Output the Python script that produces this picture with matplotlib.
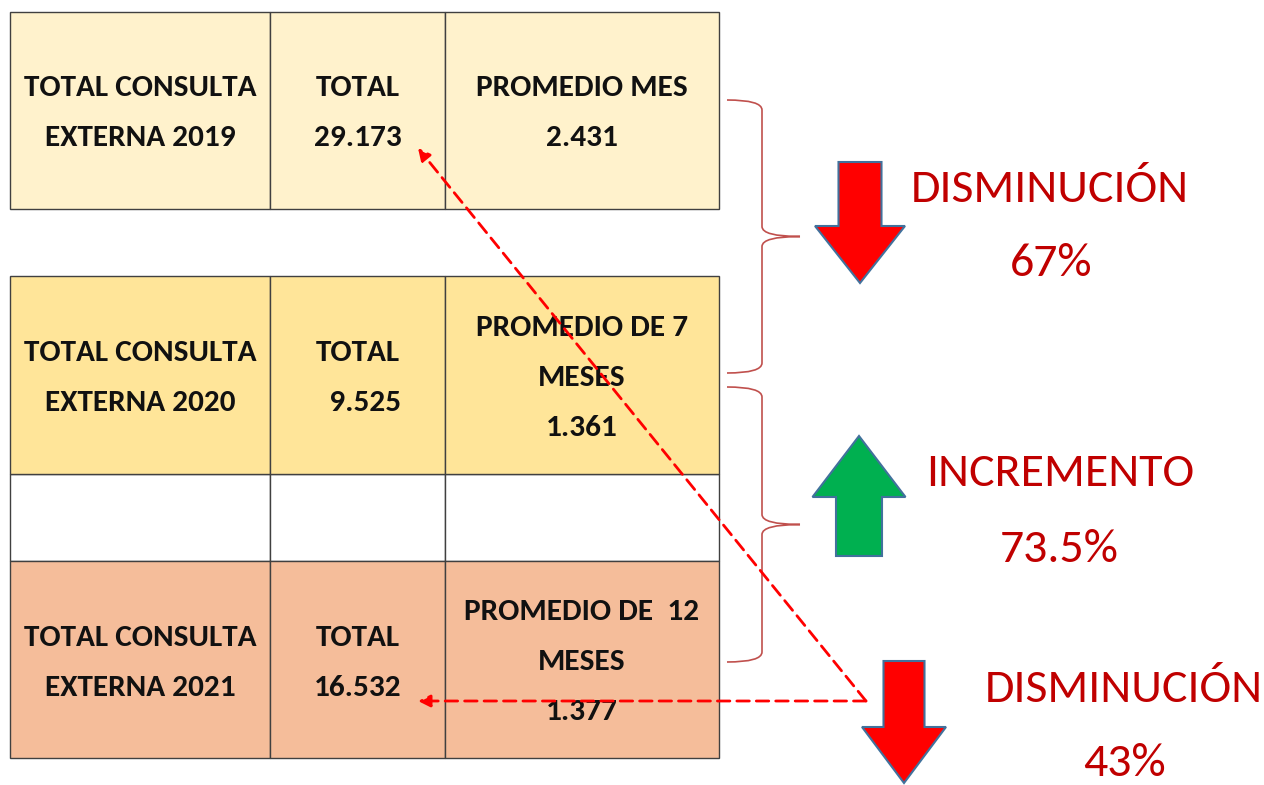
import matplotlib
matplotlib.use("Agg")
import matplotlib.pyplot as plt
from matplotlib.patches import Rectangle, Polygon, PathPatch
from matplotlib.path import Path

years = ["2019", "2020", "2021"]
totals = ["29.173", "  9.525", "16.532"]
promedio_labels = [["PROMEDIO MES", "2.431"],
                   ["PROMEDIO DE 7", "MESES", "1.361"],
                   ["PROMEDIO DE  12", "MESES", "1.377"]]
changes = [("DISMINUCIÓN", "67%"), ("INCREMENTO", "73.5%"), ("DISMINUCIÓN", "43%")]
fills = ["#FFF2CC", "#FFE599", "#F5BD9A"]

W, H = 1264, 785
fig = plt.figure(figsize=(W / 100, H / 100), dpi=100)
ax = fig.add_axes([0, 0, 1, 1])
ax.set_xlim(0, W)
ax.set_ylim(H, 0)
ax.axis("off")

FAM = ["Carlito", "Open Sans Condensed", "DejaVu Sans"]
TXT = dict(family=FAM, fontweight="bold", fontsize=22.5, ha="center", va="center", color="#111111")

cols = [10, 270, 445, 719]
rows = [(12, 209), (276, 474), (561, 758)]
lw = 1.0
edge = "#404040"

# white row between 2020 and 2021
for i in range(3):
    ax.add_patch(Rectangle((cols[i], 474), cols[i + 1] - cols[i], 87, facecolor="white", edgecolor=edge, lw=lw))

for k, (y0, y1) in enumerate(rows):
    for i in range(3):
        ax.add_patch(Rectangle((cols[i], y0), cols[i + 1] - cols[i], y1 - y0,
                               facecolor=fills[k], edgecolor=edge, lw=lw))
    yc = (y0 + y1) / 2 + 3
    ax.text(140, yc - 25, "TOTAL CONSULTA", **TXT)
    ax.text(140, yc + 25, "EXTERNA " + years[k], **TXT)
    ax.text(358, yc - 25, "TOTAL", **TXT)
    ax.text(358, yc + 25, totals[k], **TXT)
    lines = promedio_labels[k]
    n = len(lines)
    for j, t in enumerate(lines):
        ax.text(582, yc + (j - (n - 1) / 2) * 50, t, **TXT)

# braces
def brace(y0, y1, x0=727, x1=762, xt=800):
    ym = (y0 + y1) / 2
    verts = [(x0, y0), (x1, y0), (x1, y0 + 10),
             (x1, ym - 10),
             (x1, ym), (xt, ym),
             (x1, ym), (x1, ym + 10),
             (x1, y1 - 10),
             (x1, y1), (x0, y1)]
    codes = [Path.MOVETO, Path.CURVE3, Path.CURVE3,
             Path.LINETO,
             Path.CURVE3, Path.CURVE3,
             Path.CURVE3, Path.CURVE3,
             Path.LINETO,
             Path.CURVE3, Path.CURVE3]
    ax.add_patch(PathPatch(Path(verts, codes), facecolor="none", edgecolor="#C0504D", lw=1.2))

brace(100, 373)
brace(387, 662)

# block arrows
def block_arrow(cx, ybase, yhead, ytip, sw, hw, color):
    pts = [(cx - sw / 2, ybase), (cx + sw / 2, ybase), (cx + sw / 2, yhead), (cx + hw / 2, yhead),
           (cx, ytip), (cx - hw / 2, yhead), (cx - sw / 2, yhead)]
    ax.add_patch(Polygon(pts, closed=True, facecolor=color, edgecolor="#41719C", lw=1.5, zorder=5))

block_arrow(860, 162, 226, 283, 43, 90, "#FF0000")
block_arrow(859, 556, 497, 436, 46, 93, "#00B050")
block_arrow(904, 661, 727, 783, 41, 84, "#FF0000")

RED = dict(family=FAM, fontsize=34.5, ha="center", va="center", color="#C00000")
ax.text(1050, 189, changes[0][0], **RED)
ax.text(1051, 263, changes[0][1], **RED)
ax.text(1060, 474, changes[1][0], **RED)
ax.text(1059, 549, changes[1][1], **RED)
ax.text(1124, 690, changes[2][0], **RED)
ax.text(1125, 764, changes[2][1], **RED)

# dashed red pointer lines
for tgt in [(418, 148), (418, 701)]:
    ax.annotate("", xy=tgt, xytext=(866, 701),
                arrowprops=dict(arrowstyle="-|>", color="#FF0000", lw=2, linestyle=(0, (4.5, 2.5)),
                                mutation_scale=18, shrinkA=0, shrinkB=0), zorder=6)

fig.savefig("out.png", dpi=100, facecolor="white")
